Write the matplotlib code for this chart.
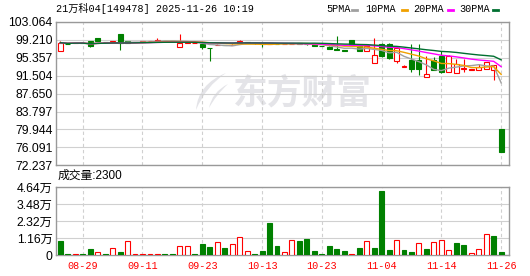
import matplotlib
matplotlib.use("Agg")
import matplotlib.pyplot as plt
from matplotlib.patches import Rectangle, PathPatch
from matplotlib.path import Path
from matplotlib.lines import Line2D
import pandas as pd

title = "21万科04[149478] 2025-11-26 10:19"

opens = [96.84, 98.40, 98.50, 98.60, 99.04, 99.68, 98.75, 98.75, 100.53, 98.89,
         98.75, 98.85, 98.95, 98.96, 99.05, 98.95, 97.61, 98.50, 98.45, 98.30,
         97.55, 98.10, 98.20, 98.10, 98.55, 98.85, 98.50, 98.45, 98.25, 98.33,
         98.25, 98.30, 98.45, 98.35, 98.34, 98.00, 97.75, 97.25, 97.00, 99.15,
         98.00, 96.90, 94.35, 98.40, 98.40, 94.70, 93.30, 94.95, 94.95, 91.20,
         94.95, 95.70, 92.30, 92.10, 93.00, 92.65, 92.80, 93.00, 92.80, 80.05]
highs = [98.89, 98.40, 98.65, 98.60, 99.04, 99.68, 98.75, 99.00, 100.53, 98.89,
         98.85, 98.92, 99.05, 99.56, 99.05, 98.95, 100.45, 98.75, 98.58, 98.60,
         97.55, 98.25, 98.20, 98.25, 99.15, 98.85, 98.50, 98.55, 98.35, 98.33,
         98.35, 98.45, 98.45, 98.35, 98.40, 98.00, 97.80, 100.15, 97.00, 99.15,
         98.00, 98.00, 99.70, 98.45, 98.45, 97.55, 93.80, 98.35, 98.35, 95.85,
         95.60, 96.90, 95.90, 95.15, 95.15, 93.00, 94.00, 94.40, 93.90, 80.05]
lows = [96.84, 98.30, 98.50, 98.50, 97.62, 98.89, 98.68, 98.75, 96.98, 98.55,
        98.75, 98.85, 98.95, 98.96, 98.95, 98.85, 97.61, 98.50, 98.45, 97.30,
        94.63, 98.10, 98.10, 98.10, 98.55, 98.55, 98.40, 97.62, 98.25, 98.25,
        98.25, 98.30, 98.30, 98.20, 97.90, 97.90, 97.15, 96.95, 96.85, 98.05,
        96.85, 96.90, 94.35, 95.60, 95.00, 94.35, 93.30, 92.30, 91.70, 91.20,
        92.65, 92.20, 92.30, 92.10, 92.30, 92.65, 92.80, 93.00, 90.50, 75.15]
closes = [98.61, 98.34, 98.60, 98.55, 97.83, 98.89, 98.70, 98.89, 98.54, 98.60,
          98.82, 98.90, 99.00, 99.20, 99.00, 98.88, 98.65, 98.70, 98.55, 97.75,
          97.45, 98.20, 98.10, 98.20, 99.05, 98.55, 98.45, 98.35, 98.33, 98.28,
          98.30, 98.40, 98.35, 98.25, 97.95, 97.95, 97.20, 97.08, 96.90, 98.05,
          96.90, 98.00, 96.00, 95.85, 95.40, 97.50, 93.65, 93.05, 93.00, 91.95,
          92.65, 92.40, 95.70, 94.10, 93.20, 93.00, 93.40, 94.40, 93.90, 75.15]
volumes = [9500, 700, 500, 600, 4100, 2000, 600, 4500, 2300, 9500,
           500, 500, 500, 500, 600, 600, 6100, 6100, 600, 7500,
           5500, 8900, 4800, 7500, 12000, 2700, 600, 3000, 22000, 6100,
           2000, 10000, 9500, 10900, 2700, 900, 6100, 4100, 2700, 500,
           4800, 9500, 4800, 43500, 3400, 10000, 3400, 2000, 7900, 4100,
           8900, 10000, 3200, 8200, 6800, 1400, 4100, 14100, 12900, 2300]
vol_up = [0, 0, 1, 0, 0, 1, 0, 1, 0, 1,
          1, 1, 1, 1, 0, 0, 1, 1, 0, 0,
          0, 1, 0, 1, 1, 1, 0, 0, 0, 0,
          1, 1, 0, 0, 0, 0, 0, 0, 0, 1,
          0, 1, 0, 0, 0, 1, 0, 0, 1, 0,
          1, 1, 1, 0, 0, 1, 1, 1, 0, 0]

tick_idx = [3, 11, 19, 27, 35, 43, 51, 59]
tick_labels = ["08-29", "09-11", "09-23", "10-13", "10-23", "11-04", "11-14", "11-26"]
price_ticks = [72.237, 76.091, 79.944, 83.797, 87.650, 91.504, 95.357, 99.210, 103.064]
vol_ticks = [0, 11600, 23200, 34800, 46400]
vol_tick_labels = ["0", "1.16万", "2.32万", "3.48万", "4.64万"]

ma_periods = [5, 10, 20, 30]
ma_names = ["5PMA", "10PMA", "20PMA", "30PMA"]
ma_colors = ["#a0a0a0", "#f0a000", "#ff00ff", "#006f30"]

RED = "#ff0000"
GREEN = "#008000"
GRID = "#d0d0d0"
FRAME = "#999999"
WM = "#e4e4e8"
W, H = 530, 276

plt.rcParams['font.family'] = ['Liberation Sans', 'Noto Sans CJK SC']
mono = ['Liberation Mono', 'Noto Sans CJK SC']

fig = plt.figure(figsize=(W / 100, H / 100), dpi=100)
ax = fig.add_axes([56 / W, 1 - 165.3 / H, 453 / W, 143.3 / H])
axv = fig.add_axes([56 / W, 1 - 255 / H, 453 / W, 68 / H])

n = len(closes)
bw = 0.66
for i in range(n):
    o, hi, lo, c = opens[i], highs[i], lows[i], closes[i]
    if c > o:
        ax.add_patch(Rectangle((i - bw / 2, o), bw, c - o, facecolor="white",
                               edgecolor=RED, lw=0.8, zorder=3))
        ax.vlines(i, c, hi, color=RED, lw=0.8, zorder=3)
        ax.vlines(i, lo, o, color=RED, lw=0.8, zorder=3)
    elif c < o:
        ax.add_patch(Rectangle((i - bw / 2, c), bw, o - c, facecolor=GREEN,
                               edgecolor=GREEN, lw=0.8, zorder=3))
        ax.vlines(i, lo, hi, color=GREEN, lw=0.8, zorder=3)
    else:
        ax.hlines(c, i - bw / 2, i + bw / 2, color=RED, lw=0.8, zorder=3)
        ax.vlines(i, lo, hi, color=RED, lw=0.8, zorder=3)

s = pd.Series(closes)
for p, col in zip(ma_periods, ma_colors):
    ax.plot(range(n), s.rolling(p, min_periods=1).mean(), color=col, lw=1.0, zorder=4)

for i in range(n):
    if vol_up[i]:
        axv.add_patch(Rectangle((i - bw / 2, 0), bw, volumes[i], facecolor="white",
                                edgecolor=RED, lw=0.8, zorder=3))
    else:
        axv.add_patch(Rectangle((i - bw / 2, 0), bw, volumes[i], facecolor=GREEN,
                                edgecolor=GREEN, lw=0.8, zorder=3))

xlim = (-0.576, 60.05)
for a in (ax, axv):
    a.set_xlim(*xlim)
    a.set_xticks(tick_idx)
    a.set_axisbelow(True)
    a.grid(axis="x", color=GRID, lw=0.8, ls=(0, (3, 2.5)))
    a.grid(axis="y", color=GRID, lw=0.8)
    a.tick_params(length=0, labelsize=8.8, pad=2.5)
    for sp in a.spines.values():
        sp.set_color(FRAME)
        sp.set_linewidth(1.0)

ax.set_ylim(price_ticks[0], price_ticks[-1])
ax.set_yticks(price_ticks)
ax.set_yticklabels(["%.3f" % v for v in price_ticks])
ax.set_xticklabels([])

axv.set_ylim(0, vol_ticks[-1])
axv.set_yticks(vol_ticks)
axv.set_yticklabels(vol_tick_labels)
axv.set_xticklabels(tick_labels, family=mono, fontsize=7.3, color=RED)
axv.tick_params(axis="x", pad=4)

# watermark
ax.text(0.543, 0.505, "东方财富", transform=ax.transAxes, fontsize=25, fontweight="bold",
        family="Noto Sans CJK SC", color=WM, ha="center", va="center", zorder=0.2)
for pts in ([(196, 110), (198, 84), (226, 73), (206, 86), (196, 110)],
            [(209, 108), (212, 92), (228, 84), (216, 95), (209, 108)]):
    verts = [(x / W, 1 - y / H) for x, y in pts]
    codes = [Path.MOVETO, Path.CURVE3, Path.CURVE3, Path.CURVE3, Path.CURVE3]
    ax.add_patch(PathPatch(Path(verts, codes), facecolor=WM, edgecolor="none",
                           transform=fig.transFigure, zorder=0.2))

fig.text(56 / W, 1 - 8.7 / H, title, family=mono, fontsize=7.3, va="center", ha="left")
axv.text(0.003, 1.16, "成交量:2300", transform=axv.transAxes, fontsize=8.5,
         va="center", ha="left")

leg_x = [326, 365, 413, 459]
dash_x = [352, 402, 448, 493]
for name, col, lx, dx in zip(ma_names, ma_colors, leg_x, dash_x):
    fig.text(lx / W, 1 - 9 / H, name, family=mono, fontsize=7.3, va="center", ha="left")
    fig.add_artist(Line2D([dx / W, (dx + 5) / W], [1 - 9.5 / H, 1 - 9.5 / H],
                          color=col, lw=2.0, transform=fig.transFigure))

fig.savefig("out.png", dpi=100, facecolor="white")
